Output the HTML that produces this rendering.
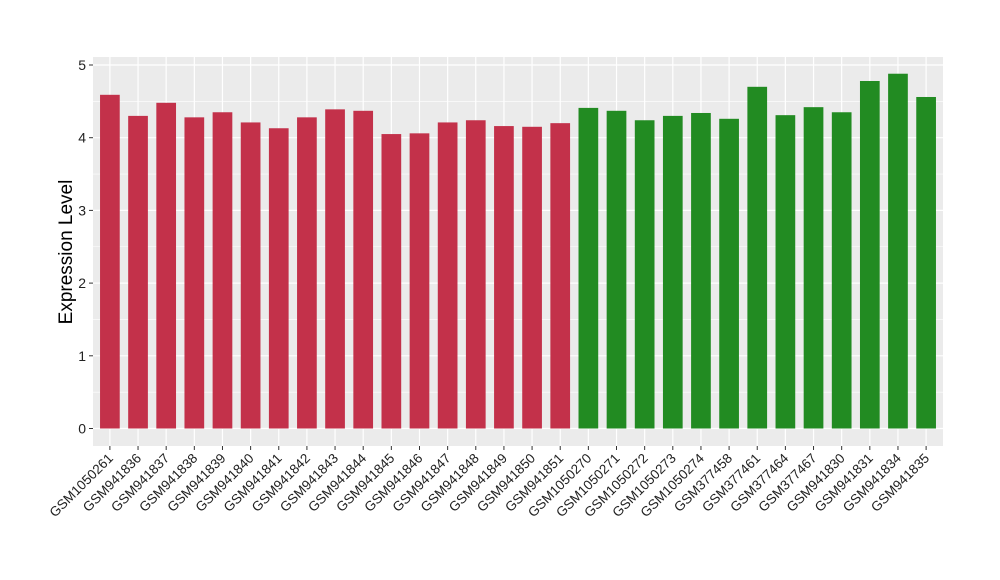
<!DOCTYPE html>
<html><head><meta charset="utf-8"><style>
body{margin:0;background:#fff;}
svg{display:block;font-family:"Liberation Sans",Arial,sans-serif;}
</style></head><body>
<svg id="chart" width="1000" height="580" viewBox="0 0 1000 580"></svg>
<script>
const categories=["GSM1050261","GSM941836","GSM941837","GSM941838","GSM941839","GSM941840","GSM941841","GSM941842","GSM941843","GSM941844","GSM941845","GSM941846","GSM941847","GSM941848","GSM941849","GSM941850","GSM941851","GSM1050270","GSM1050271","GSM1050272","GSM1050273","GSM1050274","GSM377458","GSM377461","GSM377464","GSM377467","GSM941830","GSM941831","GSM941834","GSM941835"];
const values=[4.59,4.30,4.48,4.28,4.35,4.21,4.13,4.28,4.39,4.37,4.05,4.06,4.21,4.24,4.16,4.15,4.20,4.41,4.37,4.24,4.30,4.34,4.26,4.70,4.31,4.42,4.35,4.78,4.88,4.56];
const groups=[0,0,0,0,0,0,0,0,0,0,0,0,0,0,0,0,0,1,1,1,1,1,1,1,1,1,1,1,1,1];
const yTicks=[0,1,2,3,4,5];
const colors=["#c3314a","#228b22"];
const NS="http://www.w3.org/2000/svg";
const svg=document.getElementById("chart");
const L=93,R=943,T=57,B=446;
const step=(R-L)/(categories.length+0.2);
const xC=i=>L+step*(0.6+i);
const y=v=>428.5-v*72.7;
function mk(tag,attrs,parent){const e=document.createElementNS(NS,tag);for(const k in attrs)e.setAttribute(k,attrs[k]);(parent||svg).appendChild(e);return e;}
const panel=mk("rect",{x:L,y:T,width:R-L,height:B-T,fill:"#ebebeb"});


for(let i=0;i<yTicks.length-1;i++){const g=mk("line",{x1:L,x2:R,y1:y(yTicks[i]+0.5),y2:y(yTicks[i]+0.5),stroke:"#fff","stroke-width":0.6});

}
yTicks.forEach(t=>{const g=mk("line",{x1:L,x2:R,y1:y(t),y2:y(t),stroke:"#fff","stroke-width":1.2});


const tk=mk("line",{x1:L-4,x2:L,y1:y(t),y2:y(t),stroke:"#333","stroke-width":1});


const lb=mk("text",{x:L-7,y:y(t)+5,"text-anchor":"end","font-size":14,fill:"#222"});lb.textContent=t;

});
categories.forEach((c,i)=>{const g=mk("line",{x1:xC(i),x2:xC(i),y1:T,y2:B,stroke:"#fff","stroke-width":1.2});

});
categories.forEach((c,i)=>{const w=step*0.7;
const b=mk("rect",{x:xC(i)-w/2,y:y(values[i]),width:w,height:y(0)-y(values[i]),fill:colors[groups[i]]});


const tk=mk("line",{x1:xC(i),x2:xC(i),y1:B,y2:B+4,stroke:"#333","stroke-width":1});


const lb=mk("text",{x:xC(i)+4,y:B+13,"text-anchor":"end","font-size":13.5,fill:"#222",transform:`rotate(-45 ${xC(i)+4} ${B+13})`});lb.textContent=c;

});
const yt=mk("text",{x:72,y:252,"text-anchor":"middle","font-size":19,fill:"#000",transform:"rotate(-90 72 252)"});yt.textContent="Expression Level";


</script>
</body></html>
